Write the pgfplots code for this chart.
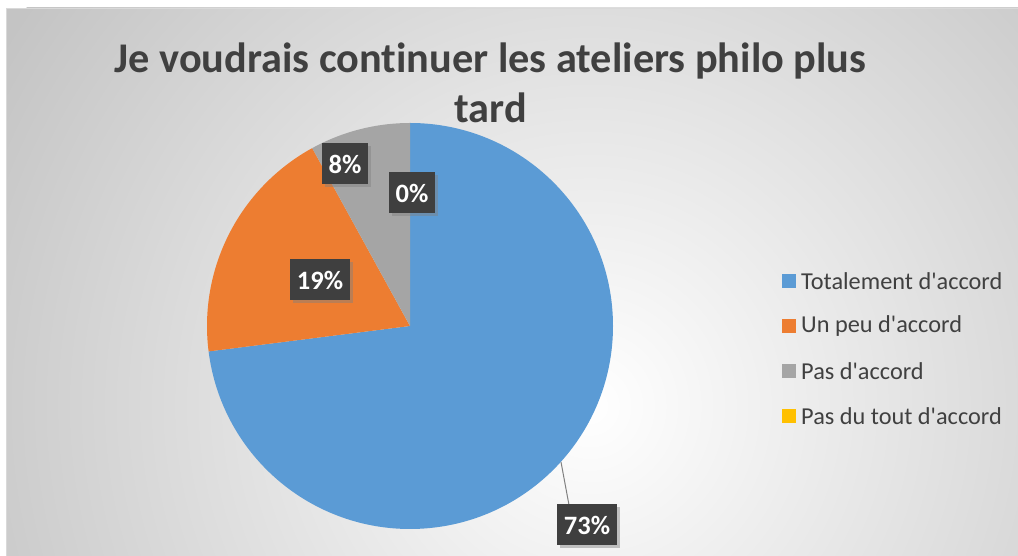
\documentclass[border=0pt]{standalone}
\usepackage{pgfplots}
\pgfplotsset{compat=1.18}
\usepackage{pgfplotstable}
\usepackage{fontspec}
\setmainfont{Carlito}[Ligatures={TeXOff,NoCommon}]
\usetikzlibrary{shadows}
\definecolor{cblue}{HTML}{5B9BD5}
\definecolor{corange}{HTML}{ED7D31}
\definecolor{cgray}{HTML}{A5A5A5}
\definecolor{cyellow}{HTML}{FFC000}
\definecolor{ctext}{HTML}{404040}
\definecolor{cbox}{HTML}{3F3F3F}
\definecolor{bgout}{HTML}{C4C4C4}

% value, label anchor (pixel coords x,y from top-left)
\pgfplotstableread{
idx value lx ly
0 73 587 525
1 19 320 280
2 8 345 164
3 0 412 193
}\piedata

\newcommand\legentry[3]{%
  \fill[#1] (axis cs:782,{556-#3-7}) rectangle (axis cs:796,{556-#3+7});
  \node[anchor=west, text=ctext, font=\fontsize{24.3}{24.3}\selectfont, inner sep=0pt] at (axis cs:801,{556-#3}) {#2};
}

\begin{document}
\begin{tikzpicture}
\begin{axis}[
  scale only axis, width=1018pt, height=556pt,
  xmin=0, xmax=1018, ymin=0, ymax=556,
  hide axis, clip=false,
]
% background
\begin{scope}
\clip (axis cs:6,0) rectangle (axis cs:1018,548);
\fill[bgout] (axis cs:6,0) rectangle (axis cs:1018,548);
\shade[inner color=white, outer color=bgout] (axis cs:590,150) circle (690pt);
\end{scope}
\draw[color=black!15, line width=0.8pt] (axis cs:6,0) -- (axis cs:6,548) -- (axis cs:1018,548);

% title
\node[font=\fontsize{42.3}{42.3}\selectfont\bfseries, text=ctext, anchor=base] at (axis cs:490.5,483) {Je voudrais continuer les ateliers philo plus};
\node[font=\fontsize{42.3}{42.3}\selectfont\bfseries, text=ctext, anchor=base] at (axis cs:490.5,433) {tard};

% pie slices
\def\cum{0}
\pgfplotsforeachungrouped \i in {0,...,3}{%
  \pgfplotstablegetelem{\i}{value}\of\piedata
  \let\v\pgfplotsretval
  \pgfmathsetmacro\a{90-3.6*\cum}%
  \pgfmathsetmacro\b{90-3.6*(\cum+\v)}%
  \ifcase\i \def\col{cblue}\or \def\col{corange}\or \def\col{cgray}\or \def\col{cyellow}\fi
  \ifdim\v pt>0pt
  \edef\temp{\noexpand\fill[\col] (axis cs:410,230) -- ++(\a:203pt) arc[start angle=\a, end angle=\b, radius=203pt] -- cycle;}%
  \temp
  \fi
  \pgfmathsetmacro\cum{\cum+\v}%
}

% leader line
\draw[color=black!50, line width=1pt] (axis cs:561,94) -- (axis cs:569,51) -- (axis cs:579,51);

% data labels
\pgfplotsforeachungrouped \i in {0,...,3}{%
  \pgfplotstablegetelem{\i}{value}\of\piedata \let\v\pgfplotsretval
  \pgfplotstablegetelem{\i}{lx}\of\piedata \let\lx\pgfplotsretval
  \pgfplotstablegetelem{\i}{ly}\of\piedata \let\ly\pgfplotsretval
  \pgfmathsetmacro\yy{556-\ly}%
  \edef\temp{\noexpand\node[fill=cbox, text=white, font=\noexpand\fontsize{26.5}{26.5}\noexpand\selectfont\noexpand\bfseries, minimum height=41pt, inner xsep=7pt, drop shadow={opacity=0.45, shadow xshift=3pt, shadow yshift=-3pt}] at (axis cs:\lx,\yy) {\v\noexpand\%};}%
  \temp
}

% legend
\legentry{cblue}{Totalement d'accord}{281}
\legentry{corange}{Un peu d'accord}{326}
\legentry{cgray}{Pas d'accord}{371}
\legentry{cyellow}{Pas du tout d'accord}{416}
\end{axis}
\pgfresetboundingbox
\useasboundingbox (0,0) rectangle (1018pt,556pt);
\end{tikzpicture}
\end{document}
